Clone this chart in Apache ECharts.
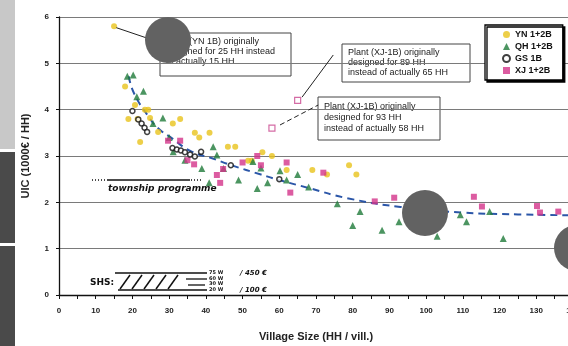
<!DOCTYPE html>
<html>
<head>
<meta charset="utf-8">
<script src="https://cdn.jsdelivr.net/npm/echarts@6/dist/echarts.min.js"></script>
<style>
  html, body { margin: 0; padding: 0; background: #fff; }
  #chart { width: 568px; height: 346px; }
</style>
</head>
<body>
<div id="chart"></div>
<script>
// axis ranges
const xRange = [0, 140];
const yRange = [0, 6];

// YN 1+2B  [HH, UIC]
const ynPoints = [
  [15, 5.8], [18, 4.5], [18.9, 3.8], [20.7, 4.1], [21.4, 3.8], [22.1, 3.3],
  [23.4, 4.0], [24.3, 4.0], [24.8, 3.82], [27, 3.52], [31, 3.7], [33, 3.8],
  [37, 3.5], [38.2, 3.4], [41, 3.5], [46, 3.2], [48, 3.2], [51.5, 2.9],
  [52.5, 2.9], [55.4, 3.08], [58, 3.0], [62, 2.7], [69, 2.7], [73, 2.6],
  [79, 2.8], [81, 2.6]
];
// QH 1+2B
const qhPoints = [
  [18.6, 4.72], [20.2, 4.75], [21.2, 4.28], [23, 4.4], [25.6, 3.7], [28.3, 3.82],
  [30, 3.4], [31.1, 3.09], [34.3, 2.91], [38.9, 2.73], [40.9, 2.42], [42, 3.2],
  [43, 3.02], [44.8, 2.73], [48.9, 2.48], [52.8, 2.88], [54, 2.3], [55, 2.74],
  [56.8, 2.42], [60.2, 2.68], [62, 2.48], [65, 2.6], [68, 2.33], [75.8, 1.97],
  [80, 1.5], [82, 1.8], [88, 1.4], [92.6, 1.58], [103, 1.27], [109.3, 1.73],
  [111, 1.58], [117.3, 1.8], [121, 1.22]
];
// GS 1B
const gsPoints = [
  [20, 3.97], [21.6, 3.79], [22.5, 3.7], [23.3, 3.61], [24, 3.52], [30.9, 3.17],
  [32.1, 3.14], [33.2, 3.12], [34.3, 3.08], [35.7, 3.03], [37, 2.99], [38.7, 3.09],
  [46.8, 2.8], [60, 2.5]
];
// XJ 1+2B
const xjPoints = [
  [29.7, 3.33], [33, 3.33], [35, 2.91], [36.8, 2.82], [43, 2.59], [43.9, 2.42],
  [44.7, 2.72], [50, 2.86], [54, 3.0], [55, 2.8], [62, 2.86], [63, 2.21],
  [72, 2.64], [86, 2.02], [91.3, 2.1], [113, 2.12], [115.2, 1.91], [130.2, 1.92],
  [131, 1.78], [136, 1.8]
];
// XJ-1B plants (open squares)
const xjPlants = [[58, 3.6], [65, 4.2]];
// dashed trend curve
const trendCurve = [
  [19, 4.72], [20.4, 4.36], [24.3, 3.86], [27, 3.6], [30.8, 3.38], [36, 3.1],
  [41.7, 2.95], [47, 2.8], [55, 2.6], [60, 2.48], [68, 2.31], [78.5, 2.09],
  [93, 1.9], [110, 1.78], [125, 1.74], [140, 1.72]
];
// leader lines from plants to notes
const leaders = [
  { from: [15.6, 5.77], to: [27.5, 5.45], dash: 'solid' },
  { from: [66.2, 4.27], to: [74.7, 5.18], dash: 'solid' },
  { from: [60.2, 3.67], to: [70.6, 4.1], dash: [5, 3] }
];

const legendNames = ['YN 1+2B', 'QH 1+2B', 'GS 1B', 'XJ 1+2B'];
const notes = [
  'Plant (YN 1B) originally\ndesigned for 25 HH instead\nof actually 15 HH',
  'Plant (XJ-1B) originally\ndesigned for 89 HH\ninstead of actually 65 HH',
  'Plant (XJ-1B) originally\ndesigned for 93 HH\ninstead of actually 58 HH'
];

const FONT = '"Liberation Sans", Arial, sans-serif';
const HAND = '"DejaVu Sans", sans-serif';

const chart = echarts.init(document.getElementById('chart'), null, { renderer: 'canvas' });

function noteBox(x, y, w, h, text, lh) {
  return {
    type: 'group', z: 50,
    children: [
      { type: 'rect', shape: { x: x, y: y, width: w, height: h },
        style: { fill: '#fff', stroke: '#444', lineWidth: 1 } },
      { type: 'text', x: x + 6, y: y + 4,
        style: { text: text, font: '9px ' + FONT, fill: '#222', lineHeight: lh, verticalAlign: 'top' } }
    ]
  };
}

const line = (x1, y1, x2, y2, w, dash) => ({
  type: 'line', z: 50, shape: { x1, y1, x2, y2 },
  style: { stroke: '#111', lineWidth: w || 1.3, lineDash: dash || null }
});

const slashes = [120, 132, 144, 156, 168].map(x => line(x, 289, x + 10, 275, 1.5));

chart.setOption({
  animation: false,
  backgroundColor: '#fff',
  grid: { left: 59, top: 17, width: 514, height: 278, outerBoundsMode: 'none' },
  xAxis: {
    type: 'value', min: xRange[0], max: xRange[1], interval: 10,
    name: 'Village Size (HH / vill.)', nameLocation: 'middle', nameGap: 36,
    nameTextStyle: { fontFamily: FONT, fontWeight: 'bold', fontSize: 11, color: '#222' },
    axisLine: { lineStyle: { color: '#111', width: 1.3 } },
    axisTick: { length: 4, lineStyle: { color: '#111' } },
    minorTick: { show: true, splitNumber: 2, length: 4, lineStyle: { color: '#111' } },
    axisLabel: { fontFamily: FONT, fontWeight: 'bold', fontSize: 8, color: '#222', margin: 12 },
    splitLine: { show: false }
  },
  yAxis: {
    type: 'value', min: yRange[0], max: yRange[1], interval: 1,
    name: 'UIC (1000€ / HH)', nameLocation: 'middle', nameGap: 28, nameRotate: 90,
    nameTextStyle: { fontFamily: FONT, fontWeight: 'bold', fontSize: 11, color: '#222' },
    axisLine: { show: true, lineStyle: { color: '#111', width: 1.3 } },
    axisTick: { show: true, length: 3, lineStyle: { color: '#111' } },
    axisLabel: { fontFamily: FONT, fontWeight: 'bold', fontSize: 8, color: '#222', margin: 10 },
    splitLine: { show: true, lineStyle: { color: '#7a7a7a', width: 1 } }
  },
  legend: {
    data: legendNames, orient: 'vertical', left: 485, top: 25,
    padding: [5, 10, 5, 17], itemGap: 3, itemWidth: 7, itemHeight: 7,
    textStyle: { fontFamily: FONT, fontWeight: 'bold', fontSize: 9, color: '#111' },
    backgroundColor: '#fff', borderColor: '#000', borderWidth: 1.3,
    shadowColor: '#000', shadowBlur: 0, shadowOffsetX: 2, shadowOffsetY: 2
  },
  series: [
    { name: 'trend', type: 'line', data: trendCurve, smooth: true, showSymbol: false,
      lineStyle: { color: '#2b56a8', width: 2, type: [7, 5] }, z: 2 },
    { name: 'YN 1+2B', type: 'scatter', data: ynPoints, symbol: 'circle', symbolSize: 6,
      itemStyle: { color: '#e9c31c' }, z: 3 },
    { name: 'QH 1+2B', type: 'scatter', data: qhPoints, symbol: 'triangle', symbolSize: 7,
      itemStyle: { color: '#1f7a3a' }, z: 3 },
    { name: 'GS 1B', type: 'scatter', data: gsPoints, symbol: 'circle', symbolSize: 5,
      itemStyle: { color: '#fff', borderColor: '#111', borderWidth: 1.5 }, z: 4 },
    { name: 'XJ 1+2B', type: 'scatter', data: xjPoints, symbol: 'rect', symbolSize: 6,
      itemStyle: { color: '#d3338a' }, z: 3 },
    { name: 'XJ-1B plants', type: 'scatter', data: xjPlants, symbol: 'rect', symbolSize: 6,
      itemStyle: { color: '#fff', borderColor: '#c9468f', borderWidth: 1.2 }, z: 3,
      markLine: {
        silent: true, symbol: ['none', 'none'], label: { show: false }, z: 60,
        data: leaders.map(l => [
          { coord: l.from, lineStyle: { color: '#222', width: 1, type: l.dash } },
          { coord: l.to }
        ])
      }
    }
  ],
  graphic: [
    // side bars
    { type: 'rect', z: 100, shape: { x: 0, y: 0, width: 15, height: 149 }, style: { fill: '#c8c8c8' } },
    { type: 'rect', z: 100, shape: { x: 0, y: 152, width: 15, height: 91 }, style: { fill: '#4a4a4a' } },
    { type: 'rect', z: 100, shape: { x: 0, y: 246, width: 15, height: 100 }, style: { fill: '#4a4a4a' } },
    // notes
    noteBox(160, 33, 131, 43, notes[0], 10),
    noteBox(342, 44, 128, 38, notes[1], 10),
    noteBox(318, 97, 122, 43, notes[2], 11),
    // township programme
    line(92, 180, 106, 180, 1.3, [1, 2]),
    line(107, 180, 190, 180, 1.5),
    line(191, 180, 201, 180, 1.3, [1, 2]),
    { type: 'text', z: 50, x: 108, y: 189,
      style: { text: 'township programme', font: 'italic bold 9px ' + HAND, fill: '#111', verticalAlign: 'middle' } },
    // SHS
    { type: 'text', z: 50, x: 90, y: 283,
      style: { text: 'SHS:', font: 'bold 9px ' + HAND, fill: '#111', verticalAlign: 'middle' } },
    line(115, 273, 207, 273, 1.5),
    line(118, 290, 207, 290, 1.5),
    ...slashes,
    line(186, 279, 207, 279, 1.3),
    line(188, 285, 205, 285, 1.3),
    { type: 'text', z: 50, x: 209, y: 281,
      style: { text: '75 W\n60 W\n30 W\n20 W', font: 'bold 5px ' + HAND, fill: '#111', lineHeight: 5.5, verticalAlign: 'middle' } },
    { type: 'text', z: 50, x: 240, y: 273,
      style: { text: '/ 450 €', font: 'italic bold 7px ' + HAND, fill: '#111', verticalAlign: 'middle' } },
    { type: 'text', z: 50, x: 240, y: 290,
      style: { text: '/ 100 €', font: 'italic bold 7px ' + HAND, fill: '#111', verticalAlign: 'middle' } },
    // grey blots over the picture
    { type: 'circle', z: 100, shape: { cx: 168, cy: 40, r: 23 }, style: { fill: '#626262' } },
    { type: 'circle', z: 100, shape: { cx: 425, cy: 213, r: 23 }, style: { fill: '#626262' } },
    { type: 'circle', z: 100, shape: { cx: 577, cy: 248, r: 23 }, style: { fill: '#626262' } }
  ]
});
</script>
</body>
</html>
